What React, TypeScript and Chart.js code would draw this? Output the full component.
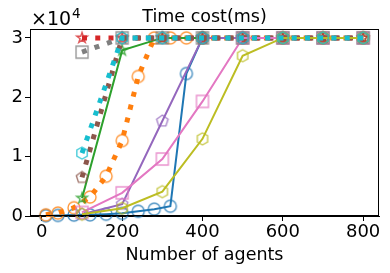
import React, { useEffect, useRef } from 'react';
import { Chart, registerables } from 'chart.js';

Chart.register(...registerables);

// ---------- data ----------
const xFine = [10, 40, 80, 120, 160, 200, 240, 280, 320, 360, 400, 500, 600, 700, 800];
const xCoarse = [100, 200, 300, 400, 500, 600, 700, 800];

const blueValues = [50, 100, 150, 200, 300, 450, 800, 1150, 1650, 24000, 30000, 30000, 30000, 30000, 30000];
const orangeValues = [200, 500, 1400, 3200, 6700, 12700, 23500, 30000, 30000, 30000, 30000, 30000, 30000, 30000, 30000];
const greenValues = [3000, 27900, 30000, 30000, 30000, 30000, 30000, 30000];
const redValues = [30000, 30000, 30000, 30000, 30000, 30000, 30000, 30000];
const purpleValues = [300, 2000, 16000, 30000, 30000, 30000, 30000, 30000];
const brownValues = [6500, 30000, 30000, 30000, 30000, 30000, 30000, 30000];
const pinkValues = [600, 3900, 9600, 19300, 30000, 30000, 30000, 30000];
const grayValues = [27600, 30000, 30000, 30000, 30000, 30000, 30000, 30000];
const oliveValues = [300, 1300, 4100, 13000, 27000, 30000, 30000, 30000];
const cyanValues = [10600, 30000, 30000, 30000, 30000, 30000, 30000, 30000];

const xTickValues = [0, 200, 400, 600, 800];
const yTickLabels = ['0', '1', '2', '3'];
const titleText = 'Time cost(ms)';
const xAxisLabel = 'Number of agents';
const offsetBase = '\u00d710';
const offsetExp = '4';

// ---------- styling ----------
const FONT = '"DejaVu Sans", "Liberation Sans", sans-serif';

type Marker = 'circle' | 'star' | 'pentagon' | 'square' | 'hexagon';

function makeMarker(shape: Marker, color: string): HTMLCanvasElement {
  const size = 18;
  const c = document.createElement('canvas');
  c.width = size;
  c.height = size;
  const ctx = c.getContext('2d')!;
  const cx = size / 2;
  const cy = size / 2;
  ctx.strokeStyle = color;
  ctx.lineWidth = 1.4;
  ctx.globalAlpha = 0.8;
  ctx.beginPath();
  const poly = (n: number, r: number, rot: number) => {
    for (let i = 0; i < n; i++) {
      const a = rot + (i * 2 * Math.PI) / n;
      const px = cx + r * Math.cos(a);
      const py = cy + r * Math.sin(a);
      if (i === 0) ctx.moveTo(px, py);
      else ctx.lineTo(px, py);
    }
    ctx.closePath();
  };
  if (shape === 'circle') {
    ctx.arc(cx, cy, 6, 0, Math.PI * 2);
  } else if (shape === 'square') {
    ctx.rect(cx - 6, cy - 6, 12, 12);
  } else if (shape === 'pentagon') {
    poly(5, 6, -Math.PI / 2);
  } else if (shape === 'hexagon') {
    poly(6, 6, -Math.PI / 2);
  } else if (shape === 'star') {
    const R = 5.5;
    const r = R * 0.381966;
    for (let i = 0; i < 10; i++) {
      const a = -Math.PI / 2 + (i * Math.PI) / 5;
      const rr = i % 2 === 0 ? R : r;
      const px = cx + rr * Math.cos(a);
      const py = cy + rr * Math.sin(a);
      if (i === 0) ctx.moveTo(px, py);
      else ctx.lineTo(px, py);
    }
    ctx.closePath();
  }
  ctx.stroke();
  return c;
}

interface SeriesDef {
  xs: number[];
  ys: number[];
  color: string;
  dotted: boolean;
  marker: Marker;
}

const seriesDefs: SeriesDef[] = [
  { xs: xFine, ys: blueValues, color: '#1f77b4', dotted: false, marker: 'circle' },
  { xs: xFine, ys: orangeValues, color: '#ff7f0e', dotted: true, marker: 'circle' },
  { xs: xCoarse, ys: greenValues, color: '#2ca02c', dotted: false, marker: 'star' },
  { xs: xCoarse, ys: redValues, color: '#d62728', dotted: true, marker: 'star' },
  { xs: xCoarse, ys: purpleValues, color: '#9467bd', dotted: false, marker: 'pentagon' },
  { xs: xCoarse, ys: brownValues, color: '#8c564b', dotted: true, marker: 'pentagon' },
  { xs: xCoarse, ys: pinkValues, color: '#e377c2', dotted: false, marker: 'square' },
  { xs: xCoarse, ys: grayValues, color: '#7f7f7f', dotted: true, marker: 'square' },
  { xs: xCoarse, ys: oliveValues, color: '#bcbd22', dotted: false, marker: 'hexagon' },
  { xs: xCoarse, ys: cyanValues, color: '#17becf', dotted: true, marker: 'hexagon' },
];

const framePlugin = {
  id: 'frameAndTexts',
  afterDraw(chart: any) {
    const { ctx, chartArea: a } = chart;
    ctx.save();
    ctx.strokeStyle = '#000';
    ctx.lineWidth = 1;
    ctx.strokeRect(Math.round(a.left) + 0.5, Math.round(a.top) + 0.5, Math.round(a.right - a.left) - 1, Math.round(a.bottom - a.top) - 1);
    ctx.fillStyle = '#000';
    ctx.textBaseline = 'alphabetic';
    ctx.textAlign = 'center';
    ctx.font = `17.5px ${FONT}`;
    ctx.fillText(titleText, (a.left + a.right) / 2, 22);
    ctx.textAlign = 'left';
    ctx.font = `19px ${FONT}`;
    ctx.fillText(offsetBase, 31, 25);
    const w = ctx.measureText(offsetBase).width;
    ctx.font = `13.5px ${FONT}`;
    ctx.fillText(offsetExp, 31 + w + 1, 18);
    ctx.restore();
  },
};

export default function App() {
  const ref = useRef<HTMLCanvasElement | null>(null);

  useEffect(() => {
    document.body.style.margin = '0';
    const canvas = ref.current;
    if (!canvas) return;

    const datasets = seriesDefs.map((s, i) => {
      const img = makeMarker(s.marker, s.color);
      return {
        data: s.xs.map((x, j) => ({ x, y: s.ys[j] })),
        borderColor: s.color,
        backgroundColor: s.color,
        borderWidth: s.dotted ? 5 : 2,
        borderDash: s.dotted ? [5, 8.25] : [],
        borderCapStyle: 'butt' as const,
        pointStyle: img,
        pointRadius: 6,
        pointHoverRadius: 6,
        tension: 0,
        fill: false,
        order: seriesDefs.length - i,
        clip: 8,
      };
    });

    const chart = new Chart(canvas, {
      type: 'line',
      data: { datasets },
      options: {
        responsive: false,
        animation: false,
        devicePixelRatio: 1,
        events: [],
        layout: { padding: { top: 29, right: 11, left: 0, bottom: 0 } },
        plugins: {
          legend: { display: false },
          tooltip: { enabled: false },
          title: { display: false },
        },
        scales: {
          x: {
            type: 'linear',
            min: -29.5,
            max: 839.5,
            afterBuildTicks: (scale: any) => {
              scale.ticks = xTickValues.map((v) => ({ value: v }));
            },
            ticks: {
              color: '#000',
              font: { family: FONT, size: 18 },
              padding: 1,
              maxRotation: 0,
              callback: (v: any) => String(v),
            },
            grid: { drawOnChartArea: false, tickLength: 5, color: '#000', tickWidth: 1 },
            border: { display: true, color: '#000', width: 1 },
            title: {
              display: true,
              text: xAxisLabel,
              color: '#000',
              font: { family: FONT, size: 17.5 },
              padding: { top: 0, bottom: 7 },
            },
            afterFit: (scale: any) => {
              scale.height = 57;
            },
          },
          y: {
            type: 'linear',
            min: 0,
            max: 31500,
            afterBuildTicks: (scale: any) => {
              scale.ticks = yTickLabels.map((_, i) => ({ value: i * 10000 }));
            },
            ticks: {
              color: '#000',
              font: { family: FONT, size: 18 },
              padding: 2,
              callback: (v: any) => yTickLabels[Math.round(Number(v) / 10000)] ?? '',
            },
            grid: { drawOnChartArea: false, tickLength: 5, color: '#000', tickWidth: 1 },
            border: { display: true, color: '#000', width: 1 },
            afterFit: (scale: any) => {
              scale.width = 30;
            },
          },
        },
      },
      plugins: [framePlugin],
    });

    return () => chart.destroy();
  }, []);

  return (
    <div style={{ width: 390, height: 273, position: 'relative' }}>
      <canvas ref={ref} width={390} height={273} style={{ display: 'block', width: 390, height: 273 }} />
    </div>
  );
}
